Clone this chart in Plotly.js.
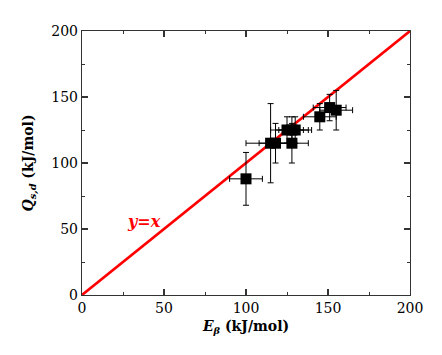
<!DOCTYPE html>
<html>
<head>
<meta charset="utf-8">
<script src="https://cdn.plot.ly/plotly-3.0.1.min.js"></script>
<style>html,body{margin:0;padding:0;background:#fff}#chart{width:442px;height:355px}</style>
</head>
<body>
<div id="chart"></div>
<script>
// Data
var eBeta   = [100, 115, 118, 128, 125, 128, 130, 145, 151, 155];
var qSd     = [88, 115, 115, 115, 125, 125, 125, 135, 142, 140];
var xErr    = [10, 15, 10, 10, 10, 10, 10, 10, 10, 10];
var yErr    = [20, 30, 15, 15, 10, 10, 10, 10, 10, 15];
var refLineX = [0, 200];
var refLineY = [0, 200];
var xTicks = [0, 50, 100, 150, 200];
var yTicks = [0, 50, 100, 150, 200];

var serif = 'DejaVu Serif';

var traces = [
  {
    x: refLineX, y: refLineY, type: 'scatter', mode: 'lines',
    line: {color: '#ff0000', width: 2.6}, hoverinfo: 'skip', showlegend: false
  },
  {
    x: eBeta, y: qSd, type: 'scatter', mode: 'markers',
    marker: {symbol: 'square', size: 11, color: '#000'},
    error_x: {type: 'data', array: xErr, visible: true, color: '#000', thickness: 1, width: 3},
    error_y: {type: 'data', array: yErr, visible: true, color: '#000', thickness: 1, width: 3},
    showlegend: false
  }
];

var axisCommon = {
  range: [0, 200], showgrid: false, zeroline: false,
  showline: true, linecolor: '#333', linewidth: 1.2, mirror: 'ticks',
  ticks: 'inside', ticklen: 6, tickwidth: 1.2, tickcolor: '#333',
  tickfont: {family: serif, size: 14, color: '#000'},
  minor: {dtick: 25, ticks: 'inside', ticklen: 3, tickwidth: 1, tickcolor: '#333'}
};

var layout = {
  width: 442, height: 355,
  margin: {l: 82, r: 32, t: 31, b: 60},
  paper_bgcolor: '#fff', plot_bgcolor: '#fff',
  font: {family: serif, color: '#000'},
  showlegend: false,
  xaxis: Object.assign({}, axisCommon, {
    tickvals: xTicks, ticktext: xTicks.map(String),
    title: {text: '<b><i>E</i><sub><i>β</i></sub> (kJ/mol)</b>', font: {family: serif, size: 14, color: '#000'}, standoff: 6}
  }),
  yaxis: Object.assign({}, axisCommon, {
    tickvals: yTicks, ticktext: yTicks.map(String),
    title: {text: '<b><i>Q</i><sub><i>s,d</i></sub> (kJ/mol)</b>', font: {family: serif, size: 14, color: '#000'}, standoff: 14}
  }),
  annotations: [
    {x: 38, y: 56, xref: 'x', yref: 'y', text: '<b><i>y=x</i></b>', showarrow: false,
     font: {family: serif, size: 16, color: '#ff0000'}}
  ]
};

Plotly.newPlot('chart', traces, layout, {displayModeBar: false, staticPlot: true});
</script>
</body>
</html>
